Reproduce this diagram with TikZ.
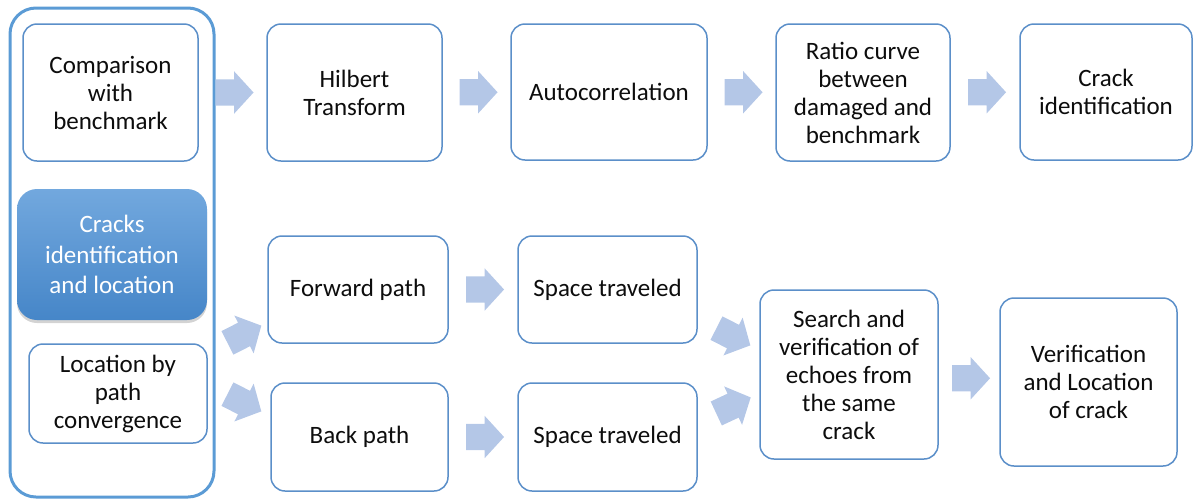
\documentclass[tikz,border=0pt]{standalone}
\usepackage{fontspec}
\setmainfont{Carlito}
\usetikzlibrary{shapes.arrows,shadows,calc}

\definecolor{boxblue}{RGB}{91,143,201}
\definecolor{frameblue}{RGB}{91,155,213}
\definecolor{arrowblue}{RGB}{180,199,231}
\definecolor{txt}{RGB}{13,13,13}
\definecolor{fillTop}{RGB}{114,168,222}
\definecolor{fillBot}{RGB}{70,134,200}

\tikzset{
  stagebox/.style={draw=boxblue, line width=1.5pt, rounded corners=14pt, fill=white,
    align=center, text=txt, inner sep=0pt, font=\fontsize{25}{28}\selectfont},
  framebox/.style={draw=frameblue, line width=3pt, rounded corners=26pt, inner sep=0pt},
  hubbox/.style={rounded corners=20pt, top color=fillTop, bottom color=fillBot,
    draw=none, align=center, text=white, inner sep=0pt,
    font=\fontsize{25}{30.5}\selectfont,
    drop shadow={opacity=0.35, shadow xshift=0pt, shadow yshift=-3pt}},
  flowarrow/.style={single arrow, fill=arrowblue, draw=none, inner xsep=0pt,
    inner ysep=13pt, single arrow head extend=8pt, single arrow tip angle=95,
    single arrow head indent=0pt, minimum height=38pt, outer sep=0pt, xshift=-4pt}
}

\begin{document}
\begin{tikzpicture}[x=1pt, y=-1pt]
\useasboundingbox (0,0) rectangle (1193,499);

% left-hand group frame
\node[framebox, minimum width=204pt, minimum height=489pt] (frame) at (112,252.5) {};
\node[stagebox, minimum width=175pt, minimum height=137pt] (cmp) at (110.5,92.5)
  {Comparison\\with\\benchmark};
\node[hubbox, minimum width=190pt, minimum height=131pt] (hub) at (112,254.5)
  {Cracks\\identification\\and location};
\node[stagebox, minimum width=178pt, minimum height=99pt] (loc) at (118,393.5)
  {Location by\\path\\convergence};

% upper chain
\node[stagebox, minimum width=175pt, minimum height=137pt] (hil) at (354.5,92.5)
  {Hilbert\\Transform};
\node[stagebox, minimum width=196pt, minimum height=136pt] (aut) at (609,92)
  {Autocorrelation};
\node[stagebox, minimum width=174pt, minimum height=137pt] (rat) at (863,92.5)
  {Ratio curve\\between\\damaged and\\benchmark};
\node[stagebox, minimum width=172pt, minimum height=136pt] (cid) at (1106,92)
  {Crack\\identification};

% lower chain
\node[stagebox, minimum width=180pt, minimum height=107pt] (fwd) at (358,289.5)
  {Forward path};
\node[stagebox, minimum width=179pt, minimum height=107pt] (sp1) at (607.5,289.5)
  {Space traveled};
\node[stagebox, minimum width=177pt, minimum height=108pt] (bck) at (359.5,437)
  {Back path};
\node[stagebox, minimum width=179pt, minimum height=108pt] (sp2) at (607.5,437)
  {Space traveled};
\node[stagebox, minimum width=178pt, minimum height=169pt] (sch) at (849,374.5)
  {Search and\\verification of\\echoes from\\the same\\crack};
\node[stagebox, minimum width=177pt, minimum height=168pt] (ver) at (1088.5,382)
  {Verification\\and Location\\of crack};

% block arrows between stages
\node[flowarrow] (a1) at ($(cmp.east)!0.5!(hil.west)$) {};
\node[flowarrow] (a2) at ($(hil.east)!0.5!(aut.west)$) {};
\node[flowarrow] (a3) at ($(aut.east)!0.5!(rat.west)$) {};
\node[flowarrow] (a4) at ($(rat.east)!0.5!(cid.west)$) {};
\node[flowarrow] (a5) at ($(fwd.east)!0.5!(sp1.west)$) {};
\node[flowarrow] (a6) at ($(bck.east)!0.5!(sp2.west)$) {};
\node[flowarrow] (a7) at ($(sch.east)!0.5!(ver.west)$) {};
\node[flowarrow, rotate=27]  (d1) at (243,337) {};
\node[flowarrow, rotate=-27] (d2) at (243,400) {};
\node[flowarrow, rotate=-27] (d3) at (732,334) {};
\node[flowarrow, rotate=25]  (d4) at (732,408) {};
\end{tikzpicture}
\end{document}
